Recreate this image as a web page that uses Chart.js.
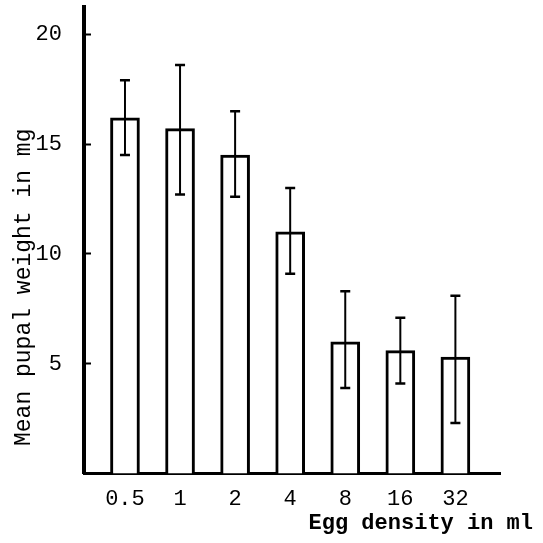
<!DOCTYPE html>
<html>
<head>
<meta charset="utf-8">
<script src="https://cdn.jsdelivr.net/npm/chart.js@4/dist/chart.umd.min.js"></script>
<style>
  html, body { margin: 0; padding: 0; background: #fff; }
  canvas { display: block; }
</style>
</head>
<body>
<canvas id="c" width="543" height="543"></canvas>
<script>
// Egg density categories (per ml)
const xLabels = ['0.5', '1', '2', '4', '8', '16', '32'];
// Mean pupal weight (mg)
const meanWeight = [16.2, 15.7, 14.5, 11.0, 6.0, 5.6, 5.3];
// Error bar upper and lower ends (mg)
const errHigh = [17.9, 18.6, 16.5, 13.0, 8.3, 7.1, 8.1];
const errLow  = [14.5, 12.7, 12.6, 9.1, 3.9, 4.1, 2.3];
// Y tick labels
const yTicks = [5, 10, 15, 20];

const FONT = "'Liberation Mono', 'Courier New', monospace";
const INK = '#000';

const errorBars = {
  id: 'errorBars',
  afterDatasetsDraw(chart) {
    const { ctx, scales: { x, y } } = chart;
    ctx.save();
    ctx.strokeStyle = INK;
    ctx.lineCap = 'butt';
    for (let i = 0; i < xLabels.length; i++) {
      const px = x.getPixelForValue(i + 1);
      const hi = y.getPixelForValue(errHigh[i]);
      const lo = y.getPixelForValue(errLow[i]);
      ctx.lineWidth = 2;
      ctx.beginPath();
      ctx.moveTo(px, hi);
      ctx.lineTo(px, lo);
      ctx.stroke();
      ctx.lineWidth = 2.5;
      ctx.beginPath();
      ctx.moveTo(px - 5, hi);
      ctx.lineTo(px + 5, hi);
      ctx.moveTo(px - 5, lo);
      ctx.lineTo(px + 5, lo);
      ctx.stroke();
    }
    ctx.restore();
  }
};

new Chart(document.getElementById('c'), {
  type: 'bar',
  data: {
    datasets: [{
      data: meanWeight.map((v, i) => ({ x: i + 1, y: v })),
      backgroundColor: '#fff',
      borderColor: INK,
      borderWidth: 3,
      barThickness: 29,
      borderSkipped: 'start'
    }]
  },
  options: {
    responsive: false,
    animation: false,
    devicePixelRatio: 1,
    layout: { padding: { top: 7, left: 0, right: 10, bottom: 0 } },
    plugins: {
      legend: { display: false },
      tooltip: { enabled: false },
      title: {
        display: true,
        text: 'Egg density in ml',
        position: 'bottom',
        align: 'end',
        color: INK,
        font: { family: FONT, size: 22, weight: 'bold', lineHeight: 1.2 },
        padding: { top: 0, bottom: 6 }
      }
    },
    scales: {
      x: {
        type: 'linear',
        offset: false,
        min: 0.256,
        max: 7.81,
        afterBuildTicks: (s) => { s.ticks = xLabels.map((_, i) => ({ value: i + 1 })); },
        afterFit: (s) => { s.height = 37; s.paddingLeft = 0; s.paddingRight = 0; },
        ticks: {
          autoSkip: false,
          maxRotation: 0,
          padding: 12,
          color: INK,
          font: { family: FONT, size: 22 },
          callback: (v) => xLabels[Math.round(v) - 1] ?? ''
        },
        grid: { display: false, drawTicks: false, offset: false },
        border: { display: true, color: INK, width: 3 }
      },
      y: {
        type: 'linear',
        min: 0,
        max: 21.24,
        afterBuildTicks: (s) => { s.ticks = yTicks.map(v => ({ value: v })); },
        afterFit: (s) => { s.width = 84; s.paddingTop = 0; s.paddingBottom = 0; },
        ticks: {
          padding: 29,
          color: INK,
          font: { family: FONT, size: 22 }
        },
        grid: {
          display: true,
          drawOnChartArea: false,
          drawTicks: true,
          tickLength: -7,
          tickWidth: 2,
          tickColor: INK,
          color: INK
        },
        border: { display: true, color: INK, width: 4 },
        title: {
          display: true,
          text: '  Mean pupal weight in mg',
          align: 'start',
          color: INK,
          font: { family: FONT, size: 23, lineHeight: 1.2 },
          padding: { top: 10, bottom: 0 }
        }
      },
      r: {
        type: 'linear',
        position: 'right',
        display: true,
        afterFit: (s) => { s.width = 33; s.paddingTop = 0; s.paddingBottom = 0; },
        ticks: { display: false },
        grid: { display: false, drawTicks: false },
        border: { display: false }
      }
    }
  },
  plugins: [errorBars]
});
</script>
</body>
</html>
